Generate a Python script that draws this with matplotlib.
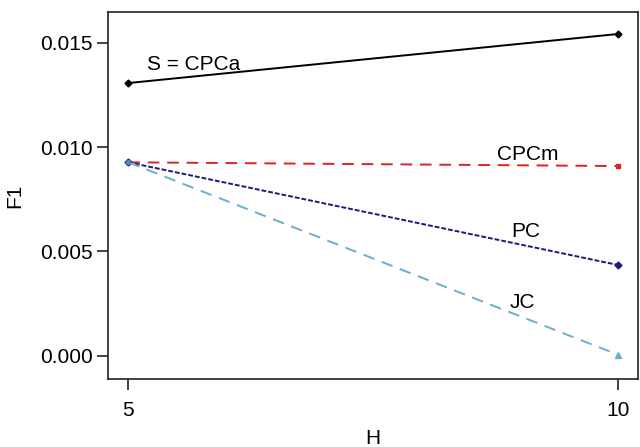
import matplotlib
matplotlib.use("Agg")
import matplotlib.pyplot as plt

plt.rcParams['font.family'] = ['Liberation Sans', 'DejaVu Sans']

H = [5, 10]
cpca = [0.01307, 0.01542]
cpcm = [0.00927, 0.00909]
pc = [0.00927, 0.00435]
jc = [0.00927, 0.00005]
yticks = [0.000, 0.005, 0.010, 0.015]
yticklabels = ["0.000", "0.005", "0.010", "0.015"]
xticks = [5, 10]

FS = 15

fig = plt.figure(figsize=(6.4, 4.47), dpi=100)
ax = fig.add_axes([0.1683, 0.1521, 0.9964 - 0.1683, 0.9738 - 0.1521])

ax.plot(H, cpca, color='black', lw=1.4, ls='-', marker='D', ms=3.5)
ax.plot(H, cpcm, color='#dd2222', lw=1.4, ls=(0, (6, 4)), marker='s', ms=3)
ax.plot(H, pc, color='#1c1c7a', lw=1.4, ls=(0, (2.5, 1)), marker='D', ms=3.5)
ax.plot(H, jc, color='#6aaed0', lw=1.4, ls=(0, (6, 4)), marker=None)
ax.plot([H[1]], [jc[1]], color='#6aaed0', marker='^', ms=4, ls='none')
ax.plot([H[0]], [jc[0]], color='#4f86c6', marker='o', ms=3, ls='none')

ax.text(5.67, 0.01397, "S = CPCa", fontsize=FS, ha='center', va='center')
ax.text(9.08, 0.00964, "CPCm", fontsize=FS, ha='center', va='center')
ax.text(9.06, 0.00593, "PC", fontsize=FS, ha='center', va='center')
ax.text(9.03, 0.00253, "JC", fontsize=FS, ha='center', va='center')

ax.set_xlim(4.79, 10.204)
ax.set_ylim(-0.00112, 0.01649)
ax.set_xticks(xticks)
ax.set_xticklabels([str(v) for v in xticks], fontsize=FS)
ax.set_yticks(yticks)
ax.set_yticklabels(yticklabels, fontsize=FS)
ax.tick_params(direction='out', length=8, width=1.2, colors='#222222', labelcolor='black')
ax.tick_params(axis='x', pad=8)
ax.tick_params(axis='y', pad=3)
for s in ax.spines.values():
    s.set_linewidth(1.2)
    s.set_color('#222222')

fig.text(0.5 * (0.1683 + 0.9964), 1 - 438 / 447, "H", fontsize=FS, ha='center', va='center')
fig.text(15 / 640, 1 - 196 / 447, "F1", fontsize=FS, ha='center', va='center', rotation=90)

fig.savefig("out.png", dpi=100)
